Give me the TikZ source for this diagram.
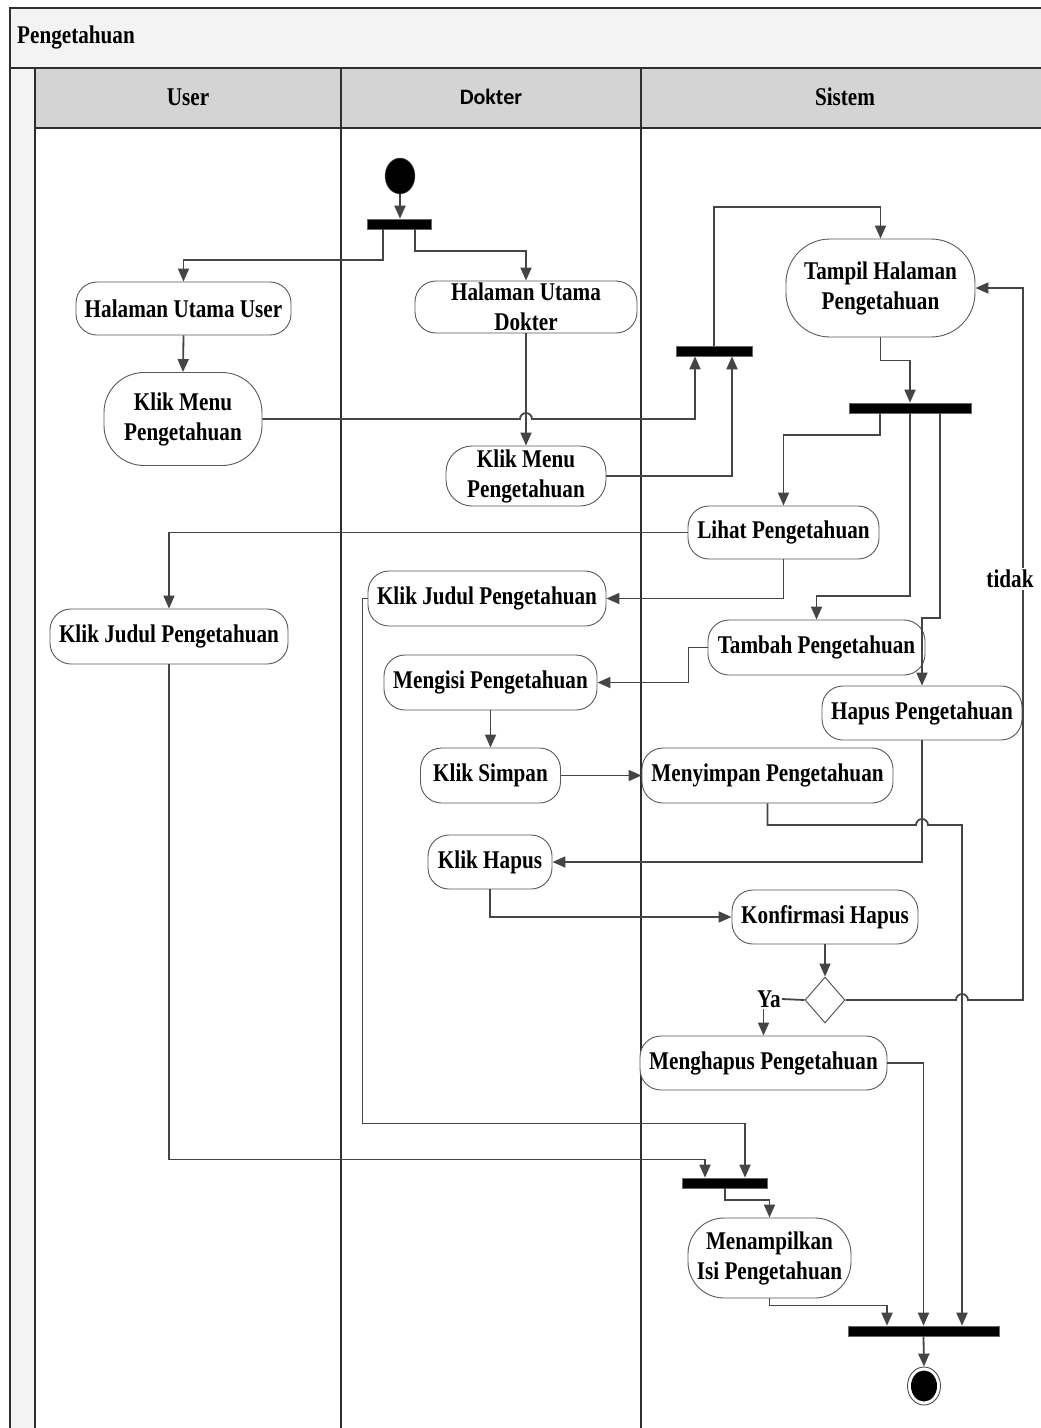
\documentclass[tikz,border=0pt]{standalone}
\usepackage{fontspec}
\setmainfont{Liberation Serif}[FakeStretch=0.83]
\newfontfamily\calibrifont{Carlito}
\usetikzlibrary{arrows.meta,shapes.geometric}
\definecolor{linec}{HTML}{454545}
\definecolor{framec}{HTML}{2E2E2E}
\definecolor{headc}{HTML}{D4D4D4}
\definecolor{barc}{HTML}{F3F3F3}
\newcommand\nodefont{\fontsize{25.5}{30}\selectfont\bfseries}
\tikzset{
  act/.style={draw=black!65, line width=0.9pt, rounded corners=21pt, fill=white,
    inner sep=0pt, align=center, font=\nodefont},
  acttall/.style={act, rounded corners=30pt},
  forkbar/.style={draw=black!60, fill=black, line width=0.6pt, inner sep=0pt, minimum height=10pt},
  conn/.style={draw=linec, line width=1.8pt, -{Triangle[length=13pt,width=11pt]}},
  plainconn/.style={draw=linec, line width=1.8pt},
  frame/.style={draw=framec, line width=1.3pt},
  lbl/.style={font=\nodefont, inner sep=1pt},
}
\begin{document}
\begin{tikzpicture}[x=1pt,y=-1pt]
\useasboundingbox (0,0) rectangle (1041,1428);
% frame
\fill[barc] (10,8) rectangle (1045,68);
\fill[barc] (10,68) rectangle (35,1432);
\fill[headc] (35,68) rectangle (1045,128);
\draw[frame] (1045,8) -- (10,8) -- (10,1432);
\draw[frame] (10,68) -- (1045,68);
\draw[frame] (35,128) -- (1045,128);
\draw[frame] (35,68) -- (35,1432);
\draw[frame] (341,68) -- (341,1432);
\draw[frame] (641,68) -- (641,1432);
\node[lbl, anchor=west] (title) at (16,37) {Pengetahuan};
\node[lbl] (hUser) at (188,97) {User};
\node[font=\calibrifont\fontsize{22}{25}\selectfont\bfseries, inner sep=1pt] (hDokter) at (491,97) {Dokter};
\node[lbl] (hSistem) at (845,97) {Sistem};

% nodes
\node[ellipse, fill=black, draw=black!60, inner sep=0pt, minimum width=30pt, minimum height=36pt] (start) at (400,176) {};
\node[forkbar, minimum width=64pt] (f1) at (399,224) {};
\node[act, minimum width=215pt, minimum height=53pt] (huu) at (183.5,308.5) {Halaman Utama User};
\node[act, minimum width=222pt, minimum height=52pt] (hud) at (526,307) {Halaman Utama\\Dokter};
\node[acttall, rounded corners=40pt, minimum width=158pt, minimum height=93pt] (kmu) at (183,419) {Klik Menu\\Pengetahuan};
\node[act, rounded corners=26pt, minimum width=160pt, minimum height=60pt] (kmd) at (526,476) {Klik Menu\\Pengetahuan};
\node[forkbar, minimum width=76pt] (f2) at (714,351) {};
\node[acttall, rounded corners=44pt, minimum width=189pt, minimum height=98pt] (tampil) at (880.5,288) {Tampil Halaman\\Pengetahuan};
\node[forkbar, minimum width=122pt] (f3) at (910,408) {};
\node[act, minimum width=191pt, minimum height=53pt] (lihat) at (783.5,532.5) {Lihat Pengetahuan};
\node[act, minimum width=238pt, minimum height=55pt] (kjd) at (487,598.5) {Klik Judul Pengetahuan};
\node[act, minimum width=238pt, minimum height=55pt] (kju) at (169,636.5) {Klik Judul Pengetahuan};
\node[act, minimum width=217pt, minimum height=55pt] (tambah) at (816.5,647.5) {Tambah Pengetahuan};
\node[act, minimum width=213pt, minimum height=55pt] (mengisi) at (490.5,682.5) {Mengisi Pengetahuan};
\node[act, minimum width=200pt, minimum height=54pt] (hapus) at (922,713) {Hapus Pengetahuan};
\node[act, minimum width=140pt, minimum height=55pt] (simpan) at (490.5,775.5) {Klik Simpan};
\node[act, minimum width=251pt, minimum height=55pt] (menyimpan) at (767.5,775.5) {Menyimpan Pengetahuan};
\node[act, minimum width=124pt, minimum height=54pt] (klikhapus) at (490,862) {Klik Hapus};
\node[act, minimum width=186pt, minimum height=54pt] (konf) at (825,917) {Konfirmasi Hapus};
\node[diamond, draw=black!65, line width=1pt, fill=white, inner sep=0pt, minimum width=40pt, minimum height=46pt] (dec) at (825,1000) {};
\node[lbl] (ya) at (769,999) {Ya};
\node[act, minimum width=247pt, minimum height=54pt] (menghapus) at (763.5,1063) {Menghapus Pengetahuan};
\node[forkbar, minimum width=85pt] (f4) at (725,1183) {};
\node[acttall, rounded corners=36pt, minimum width=163pt, minimum height=80pt] (menampilkan) at (769.5,1258) {Menampilkan\\Isi Pengetahuan};
\node[forkbar, minimum width=151pt] (f5) at (923.5,1331) {};
\node[ellipse, draw=black!70, line width=0.9pt, fill=white, inner sep=0pt, minimum width=33pt, minimum height=38pt] (end) at (924,1386) {};
\node[ellipse, fill=black, inner sep=0pt, minimum width=26pt, minimum height=31pt] (endin) at (end.center) {};

% connectors
\draw[conn] (start.south) -- (start.south |- f1.north);
\draw[conn] ([xshift=-16pt]f1.south) -- ++(0,31) -| (huu.north);
\draw[conn] ([xshift=16pt]f1.south) -- ++(0,22) -| (hud.north);
\draw[conn] (huu.south) -- (kmu.north);
\draw[conn] (hud.south) -- (kmd.north);
\draw[conn] (kmu.east) -- (520,419) arc[start angle=180, end angle=0, radius=6pt] -| ([xshift=-19pt]f2.south);
\draw[conn] (kmd.east) -| ([xshift=18pt]f2.south);
\draw[conn] (f2.north) -- ++(0,-139) -| (tampil.north);
\draw[conn] (tampil.south) -- ++(0,23) -| (f3.north);
\draw[conn] ([xshift=-30pt]f3.south) -- ++(0,22) -| (lihat.north);
\draw[conn] (f3.south) -- ++(0,183) -| (tambah.north);
\draw[conn] ([xshift=30pt]f3.south) -- ++(0,205) -| (hapus.north);
\draw[conn] (lihat.west) -| (kju.north);
\draw[conn] (lihat.south) |- (kjd.east);
\draw[conn] (tambah.west) -- ++(-19,0) |- (mengisi.east);
\draw[conn] (mengisi.south) -- (simpan.north);
\draw[conn] (simpan.east) -- (menyimpan.west);
\draw[conn] (menyimpan.south) |- (916,825) arc[start angle=180, end angle=0, radius=6pt] -| ([xshift=38.5pt]f5.north);
\draw[conn] (hapus.south) |- (klikhapus.east);
\draw[conn] (klikhapus.south) |- (konf.west);
\draw[conn] (konf.south) -- (dec.north);
\draw[conn] (dec.east) -- (956,1000) arc[start angle=180, end angle=0, radius=6pt] -- (1023,1000) |- (tampil.east);
\draw[plainconn] (dec.west) -- (ya.east);
\draw[conn] (menghapus.north |- ya.south) -- (menghapus.north);
\draw[conn] (menghapus.east) -| (f5.north);
\draw[conn] (kjd.west) -- ++(-5,0) -- ++(0,525) -| ([xshift=20pt]f4.north);
\draw[conn] (kju.south) -- ++(0,495) -| ([xshift=-20pt]f4.north);
\draw[conn] (f4.south) -- ++(0,12) -| (menampilkan.north);
\draw[conn] (menampilkan.south) -- ++(0,7) -| ([xshift=-36.5pt]f5.north);
\draw[conn] (f5.south) -- (end.north);
\node[lbl, fill=white, inner sep=2pt] (tidak) at (1010,579) {tidak};
\end{tikzpicture}
\end{document}
